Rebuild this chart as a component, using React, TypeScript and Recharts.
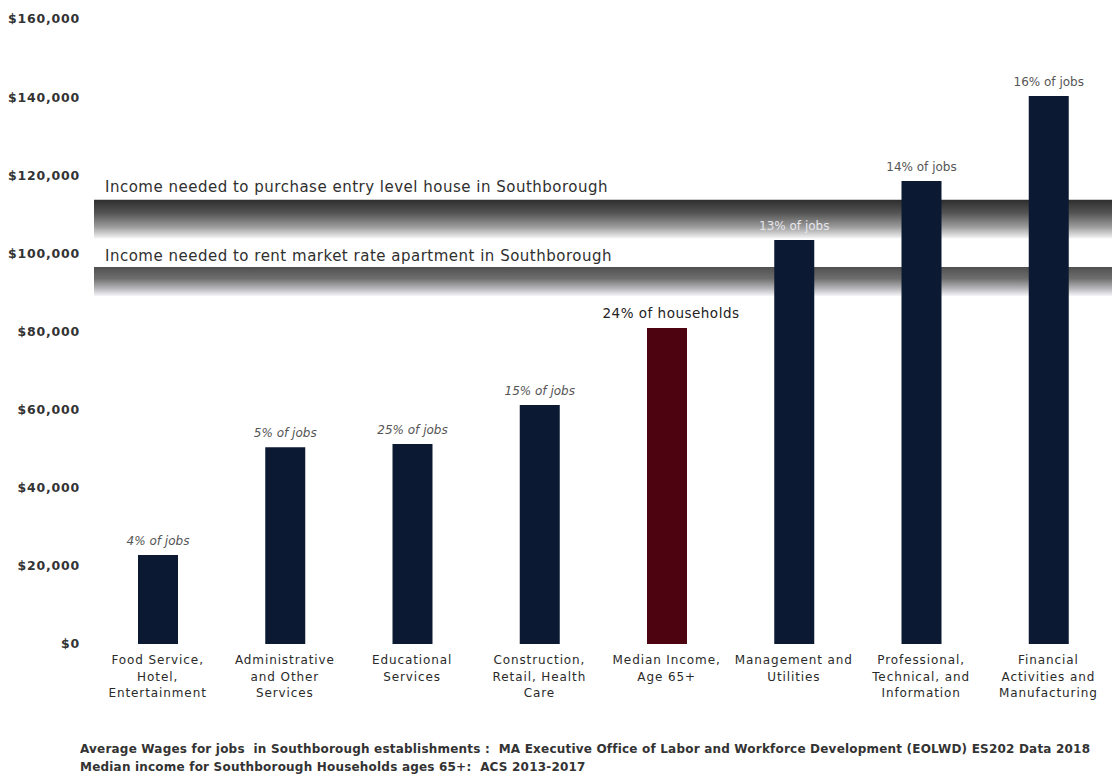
import { Bar, BarChart, Cell, LabelList, ReferenceArea, XAxis, YAxis } from "recharts";

const categories = [
  "Food Service,\nHotel,\nEntertainment",
  "Administrative\nand Other\nServices",
  "Educational\nServices",
  "Construction,\nRetail, Health\nCare",
  "Median Income,\nAge 65+",
  "Management and\nUtilities",
  "Professional,\nTechnical, and\nInformation",
  "Financial\nActivities and\nManufacturing",
];

const wages = [22800, 50400, 51200, 61200, 80900, 103400, 118500, 140300];

const shareLabels = [
  "4% of jobs",
  "5% of jobs",
  "25% of jobs",
  "15% of jobs",
  "24% of households",
  "13% of jobs",
  "14% of jobs",
  "16% of jobs",
];

const yTicks = [0, 20000, 40000, 60000, 80000, 100000, 120000, 140000, 160000];

// income thresholds (bands)
const houseBand = [103900, 113700];
const rentBand = [89100, 96500];

const houseText = "Income needed to purchase entry level house in Southborough";
const rentText = "Income needed to rent market rate apartment in Southborough";

const sourceNotes = [
  "Average Wages for jobs  in Southborough establishments :  MA Executive Office of Labor and Workforce Development (EOLWD) ES202 Data 2018",
  "Median income for Southborough Households ages 65+:  ACS 2013-2017",
];

const data = categories.map((name, i) => ({
  name,
  wage: wages[i],
  label: shareLabels[i],
}));

const FONT = "'DejaVu Sans', sans-serif";
const NAVY = "#0b1a32";
const MAROON = "#4d0410";

const fmtMoney = (v: number) => "$" + v.toLocaleString("en-US");

const CategoryTick = ({ x, y, payload }: any) => {
  const lines = String(payload.value).split("\n");
  return (
    <text
      x={x}
      y={y}
      textAnchor="middle"
      fontFamily={FONT}
      fontSize={12}
      letterSpacing={0.9}
      fill="#2a2a2a"
    >
      {lines.map((l, i) => (
        <tspan key={i} x={x} dy={i === 0 ? 12 : 16.5}>
          {l}
        </tspan>
      ))}
    </text>
  );
};

const renderShare = (props: any) => {
  const { x, y, width, value, index } = props;
  const isHouseholds = index === 4;
  const isOnBand = index === 5;
  return (
    <text
      x={x + width / 2 + (isHouseholds ? 4 : 0)}
      y={y - 10}
      textAnchor="middle"
      fontFamily={FONT}
      fontSize={isHouseholds ? 13.5 : 12}
      letterSpacing={isHouseholds ? 0.5 : 0}
      fontStyle={index < 4 ? "italic" : "normal"}
      fill={isHouseholds ? "#222" : isOnBand ? "#e6e6ee" : "#555"}
    >
      {value}
    </text>
  );
};

export default function App() {
  return (
    <div
      style={{
        position: "absolute",
        left: 0,
        top: 0,
        width: 1112,
        height: 783,
        background: "#fff",
        fontFamily: FONT,
      }}
    >
      <svg width={0} height={0} style={{ position: "absolute" }}>
        <defs>
          <linearGradient id="houseGrad" x1="0" y1="0" x2="0" y2="1">
            <stop offset="0%" stopColor="#2e2e2e" />
            <stop offset="35%" stopColor="#555" />
            <stop offset="70%" stopColor="#9a9a9a" />
            <stop offset="100%" stopColor="#f2f2f4" />
          </linearGradient>
          <linearGradient id="rentGrad" x1="0" y1="0" x2="0" y2="1">
            <stop offset="0%" stopColor="#505050" />
            <stop offset="40%" stopColor="#6e6e6e" />
            <stop offset="75%" stopColor="#b8b8bc" />
            <stop offset="100%" stopColor="#f6f6f8" />
          </linearGradient>
        </defs>
      </svg>
      <BarChart
        width={1112}
        height={710}
        data={data}
        margin={{ top: 19, right: 0, bottom: 0, left: 0 }}
        barSize={40}
      >
        <YAxis
          type="number"
          domain={[0, 160000]}
          ticks={yTicks}
          tickFormatter={fmtMoney}
          width={94}
          axisLine={false}
          tickLine={false}
          tickSize={0}
          tickMargin={14}
          tick={{
            fontFamily: FONT,
            fontSize: 12.5,
            fontWeight: "bold",
            letterSpacing: 0.8,
            fill: "#333",
          }}
        />
        <XAxis
          dataKey="name"
          axisLine={false}
          tickLine={false}
          interval={0}
          height={66}
          tick={<CategoryTick />}
        />
        <ReferenceArea
          y1={houseBand[0]}
          y2={houseBand[1]}
          fill="url(#houseGrad)"
          fillOpacity={1}
          stroke="none"
          label={{
            value: houseText,
            position: "insideTopLeft",
            offset: 0,
            dy: -19,
            dx: 11,
            fontFamily: FONT,
            fontSize: 15,
            letterSpacing: 0.5,
            fill: "#2f2f2f",
          }}
        />
        <ReferenceArea
          y1={rentBand[0]}
          y2={rentBand[1]}
          fill="url(#rentGrad)"
          fillOpacity={1}
          stroke="none"
          label={{
            value: rentText,
            position: "insideTopLeft",
            offset: 0,
            dy: -17,
            dx: 11,
            fontFamily: FONT,
            fontSize: 15,
            letterSpacing: 0.5,
            fill: "#2f2f2f",
          }}
        />
        <Bar dataKey="wage" isAnimationActive={false} fill={NAVY}>
          {data.map((d, i) => (
            <Cell key={d.name} fill={i === 4 ? MAROON : NAVY} />
          ))}
          <LabelList dataKey="label" content={renderShare} />
        </Bar>
      </BarChart>
      {sourceNotes.map((t, i) => (
        <div
          key={i}
          style={{
            position: "absolute",
            left: 80,
            top: 742 + i * 18,
            fontFamily: FONT,
            fontSize: 12,
            fontWeight: "bold",
            letterSpacing: 0.2,
            color: "#333",
            whiteSpace: "pre",
          }}
        >
          {t}
        </div>
      ))}
    </div>
  );
}
